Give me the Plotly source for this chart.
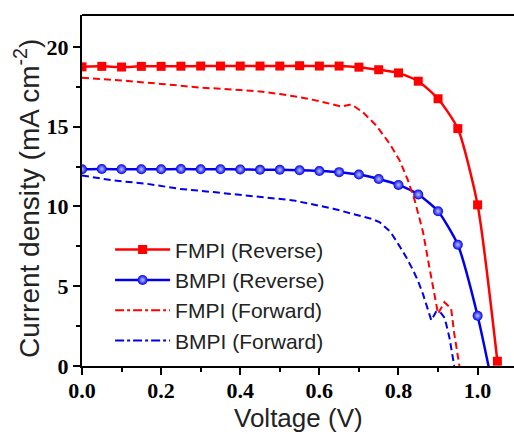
import plotly.graph_objects as go

# J-V curves: reverse scans (with markers) and forward scans (dashed)
v_rev = [0.00, 0.05, 0.10, 0.15, 0.20, 0.25, 0.30, 0.35, 0.40, 0.45, 0.50,
         0.55, 0.60, 0.65, 0.70, 0.75, 0.80, 0.85, 0.90, 0.95, 1.00, 1.05]
j_fmpi_rev = [18.75, 18.78, 18.74, 18.78, 18.78, 18.79, 18.80, 18.80, 18.80, 18.80, 18.80,
              18.82, 18.80, 18.80, 18.73, 18.57, 18.37, 17.85, 16.75, 14.88, 10.10, 0.30]
j_bmpi_rev = [12.33, 12.35, 12.33, 12.33, 12.33, 12.35, 12.33, 12.33, 12.32, 12.30, 12.30,
              12.27, 12.22, 12.15, 12.00, 11.72, 11.35, 10.75, 9.70, 7.60, 3.15, -2.70]

v_fmpi_fwd = [0.00, 0.10, 0.20, 0.30, 0.40, 0.45, 0.50, 0.55, 0.60, 0.656, 0.681,
              0.71, 0.744, 0.778, 0.803, 0.824, 0.841, 0.853, 0.862, 0.878, 0.891,
              0.900, 0.916, 0.933, 0.941, 0.954]
j_fmpi_fwd = [18.06, 17.90, 17.68, 17.45, 17.30, 17.20, 17.05, 16.85, 16.60, 16.26, 16.40,
              15.90, 15.07, 13.92, 12.88, 11.63, 10.38, 9.20, 8.40, 6.20, 4.53,
              3.28, 4.00, 3.60, 2.03, 0.00]

v_bmpi_fwd = [0.00, 0.08, 0.164, 0.248, 0.332, 0.416, 0.50, 0.534, 0.635, 0.70, 0.735,
              0.753, 0.78, 0.803, 0.82, 0.837, 0.85, 0.862, 0.873, 0.883, 0.895, 0.905,
              0.917, 0.929, 0.941]
j_bmpi_fwd = [11.94, 11.63, 11.42, 11.10, 10.90, 10.69, 10.45, 10.38, 9.86, 9.45, 9.20,
              9.00, 8.40, 7.50, 6.80, 6.00, 5.30, 4.50, 3.70, 2.86, 3.40, 3.40,
              3.00, 1.75, 0.00]

names = ["FMPI (Reverse)", "BMPI (Reverse)", "FMPI (Forward)", "BMPI (Forward)"]
RED = "#ff0000"
BLUE = "#0000ee"

fig = go.Figure()

fig.add_trace(go.Scatter(
    x=v_rev, y=j_fmpi_rev, name=names[0], mode="lines+markers",
    line=dict(color=RED, width=2.5, shape="spline", smoothing=0.6),
    marker=dict(symbol="square", size=9, color=RED),
))
fig.add_trace(go.Scatter(
    x=v_rev, y=j_bmpi_rev, name=names[1], mode="lines+markers",
    line=dict(color=BLUE, width=2.5, shape="spline", smoothing=0.6),
    marker=dict(symbol="circle", size=10, color=BLUE,
                gradient=dict(type="radial", color="#b8c4ff"),
                line=dict(width=0)),
))
fig.add_trace(go.Scatter(
    x=v_fmpi_fwd, y=j_fmpi_fwd, name=names[2], mode="lines",
    line=dict(color=RED, width=2, dash="7px,4px"), showlegend=False,
))
fig.add_trace(go.Scatter(
    x=v_bmpi_fwd, y=j_bmpi_fwd, name=names[3], mode="lines",
    line=dict(color=BLUE, width=2, dash="7px,4px"), showlegend=False,
))
# legend entries for the forward scans use a dash-dot sample
for nm, col in ((names[2], RED), (names[3], BLUE)):
    fig.add_trace(go.Scatter(
        x=[None], y=[None], name=nm, mode="lines",
        line=dict(color=col, width=2, dash="dashdot"),
    ))

tickfont = dict(family="Liberation Serif", size=22, color="black", weight=700)
TITLE_COLOR = "#222222"

fig.update_layout(
    width=514, height=434,
    margin=dict(l=82, r=0, t=15, b=68),
    plot_bgcolor="white", paper_bgcolor="white",
    showlegend=True,
    legend=dict(
        x=0.065, y=0.389, xanchor="left", yanchor="top",
        bgcolor="rgba(0,0,0,0)", borderwidth=0,
        font=dict(family="Liberation Sans", size=21, color=TITLE_COLOR),
        itemwidth=55, tracegroupgap=0,
    ),
    xaxis=dict(
        range=[0, 1.092], tickmode="array",
        tickvals=[0.0, 0.2, 0.4, 0.6, 0.8, 1.0],
        ticktext=["0.0", "0.2", "0.4", "0.6", "0.8", "1.0"],
        ticks="outside", ticklen=7, tickwidth=2, tickcolor="black",
        minor=dict(dtick=0.1, tick0=0, ticks="outside", ticklen=4, tickwidth=2, tickcolor="black"),
        showline=True, linewidth=2, linecolor="black",
        showgrid=False, zeroline=False,
        tickfont=tickfont, ticklabelstandoff=-3,
    ),
    yaxis=dict(
        range=[0, 22], tickmode="array",
        tickvals=[0, 5, 10, 15, 20],
        ticks="outside", ticklen=7, tickwidth=2, tickcolor="black",
        minor=dict(dtick=2.5, tick0=0, ticks="outside", ticklen=4, tickwidth=2, tickcolor="black"),
        showline=True, linewidth=2, linecolor="black",
        showgrid=False, zeroline=False,
        tickfont=tickfont,
    ),
    annotations=[
        dict(text="Voltage (V)",
             xref="paper", yref="paper", x=0.502, y=-0.1935,
             xanchor="center", yanchor="bottom", showarrow=False, borderpad=0,
             font=dict(family="Liberation Sans", size=26, color=TITLE_COLOR)),
        dict(text="Current density (mA cm<sup>-2</sup>)", textangle=-90,
             xref="paper", yref="paper", x=-0.127, y=0.476,
             xanchor="center", yanchor="middle", showarrow=False,
             font=dict(family="Liberation Sans", size=28, color=TITLE_COLOR)),
    ],
    shapes=[dict(type="line", xref="paper", yref="paper", x0=0, x1=1, y0=1, y1=1,
                 line=dict(color="black", width=2))],
)

fig.write_html("out.html")
